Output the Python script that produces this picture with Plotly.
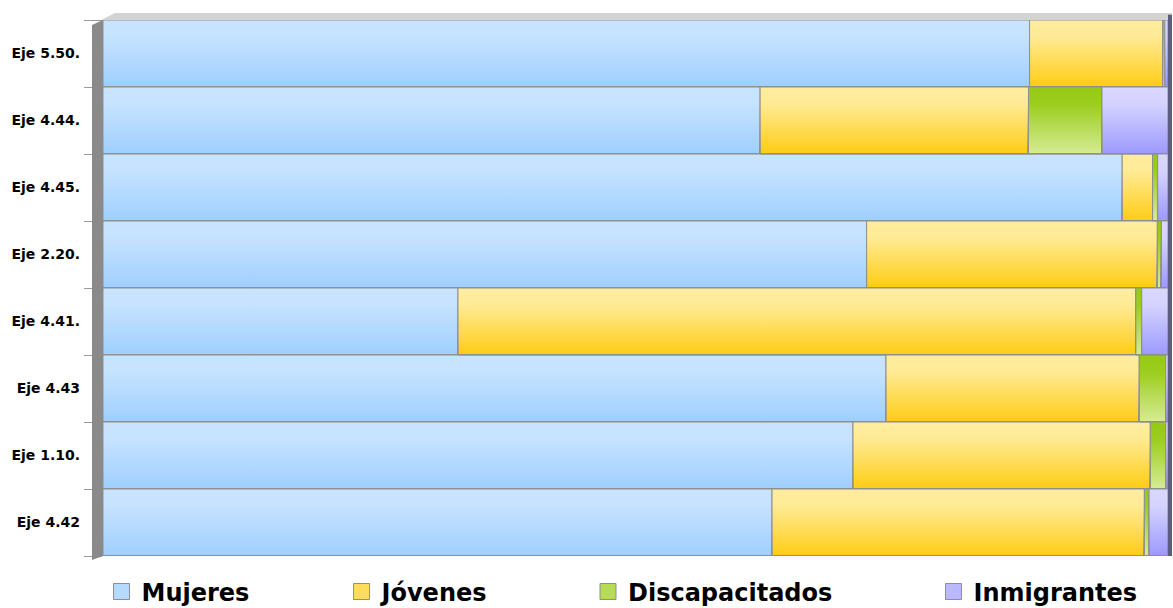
import plotly.graph_objects as go

categories = ["Eje 5.50.", "Eje 4.44.", "Eje 4.45.", "Eje 2.20.", "Eje 4.41.", "Eje 4.43", "Eje 1.10.", "Eje 4.42"]
series_names = ["Mujeres", "Jóvenes", "Discapacitados", "Inmigrantes"]
mujeres = [87.0, 61.7, 95.7, 71.7, 33.33, 73.52, 70.42, 62.82]
jovenes = [12.5, 25.2, 2.85, 27.3, 63.64, 23.78, 27.92, 34.96]
discapacitados = [0.2, 6.9, 0.48, 0.38, 0.56, 2.48, 1.45, 0.44]
inmigrantes = [0.3, 6.2, 0.97, 0.62, 2.47, 0.22, 0.21, 1.78]

series_values = [mujeres, jovenes, discapacitados, inmigrantes]
# (bottom colour, top colour) of each series' vertical gradient
bottom_colors = ["#9ECFFF", "#FFCC14", "#D6EC94", "#9C99FF"]
top_rgb = [(201, 228, 255), (255, 237, 160), (150, 202, 20), (218, 216, 255)]
legend_colors = ["#B4DAFF", "#FFDC5E", "#B6DB55", "#BAB8FF"]
legend_ids = ["legend", "legend2", "legend3", "legend4"]
legend_x = [-0.0014, 0.224, 0.4554, 0.7798]

ypos = list(range(len(categories)))
edge = "#8f8f8f"

fig = go.Figure()
for name, vals, col in zip(series_names, series_values, bottom_colors):
    fig.add_trace(go.Bar(
        y=ypos, x=vals, name=name, orientation="h", width=1,
        marker=dict(color=col, line=dict(color=edge, width=1)),
        showlegend=False, hovertext=categories, hoverinfo="x+text+name",
    ))

# gradient shading over each segment (derived from the same values)
for s, (vals, trgb) in enumerate(zip(series_values, top_rgb)):
    r, g, b = trgb
    for i, v in enumerate(vals):
        base = sum(series_values[k][i] for k in range(s))
        x0, x1 = base, base + v
        y0, y1 = ypos[i] - 0.5, ypos[i] + 0.5
        fig.add_trace(go.Scatter(
            x=[x0, x1, x1, x0, x0], y=[y0, y0, y1, y1, y0],
            mode="lines", fill="toself",
            fillgradient=dict(type="vertical", colorscale=[
                [0.0, f"rgba({r},{g},{b},0)"],
                [0.75, f"rgba({r},{g},{b},0.92)"],
                [1.0, f"rgba({r},{g},{b},1)"],
            ]),
            line=dict(color=edge, width=1),
            showlegend=False, hoverinfo="skip",
        ))

# legend entries with larger square symbols
for name, col, lid in zip(series_names, legend_colors, legend_ids):
    fig.add_trace(go.Scatter(
        x=[None], y=[None], mode="markers", name=name, legend=lid,
        marker=dict(symbol="square", size=16, color=col, line=dict(color=edge, width=1)),
        showlegend=True,
    ))

legend_common = dict(
    orientation="h", yanchor="middle", xanchor="left", y=-0.067,
    font=dict(family="DejaVu Sans", size=24, color="#000000", weight="bold"),
    bgcolor="rgba(0,0,0,0)", borderwidth=0,
)
layout_legends = {}
for lid, lx in zip(legend_ids, legend_x):
    layout_legends[lid] = dict(legend_common, x=lx)

fig.update_layout(
    width=1173, height=608,
    margin=dict(l=103, r=5, t=20, b=52, autoexpand=False),
    barmode="stack", bargap=0,
    plot_bgcolor="#ffffff", paper_bgcolor="#ffffff",
    xaxis=dict(range=[0, 100], visible=False, showgrid=False, zeroline=False, fixedrange=True),
    yaxis=dict(
        range=[len(categories) - 0.5, -0.5],
        tickmode="array", tickvals=ypos, ticktext=categories,
        showgrid=False, zeroline=False, showline=False,
        ticks="", ticklabelstandoff=22,
        minor=dict(tickmode="array", tickvals=[p - 0.5 for p in ypos] + [ypos[-1] + 0.5],
                   ticks="outside", ticklen=18, tickcolor="#9a9a9a", tickwidth=1, showgrid=False),
        tickfont=dict(family="DejaVu Sans", size=14, color="#000000", weight="bold"),
    ),
    shapes=[
        # left 3D wall
        dict(type="path", xref="paper", yref="paper", xsizemode="pixel", ysizemode="pixel",
             xanchor=0, yanchor=0,
             path="M -11,-4 L 0,0 L 0,536 L -11,531 Z",
             fillcolor="#8a8a8a", line=dict(width=0), layer="above"),
        # top strip
        dict(type="path", xref="paper", yref="paper", xsizemode="pixel", ysizemode="pixel",
             xanchor=0, yanchor=1,
             path="M -8,-3 L 12,7 L 1069,7 L 1069,0 L 0,0 Z",
             fillcolor="#d3d3d3", line=dict(width=0), layer="below"),
        # right dark edge
        dict(type="rect", xref="paper", yref="paper", xsizemode="pixel",
             xanchor=1, x0=0, x1=4, y0=0, y1=1.01,
             fillcolor="#5c5c7e", line=dict(width=0), layer="below"),
    ],
    **layout_legends,
)

fig.write_html("out.html", config={"displayModeBar": False},
               post_script="document.body.style.margin='0';")
